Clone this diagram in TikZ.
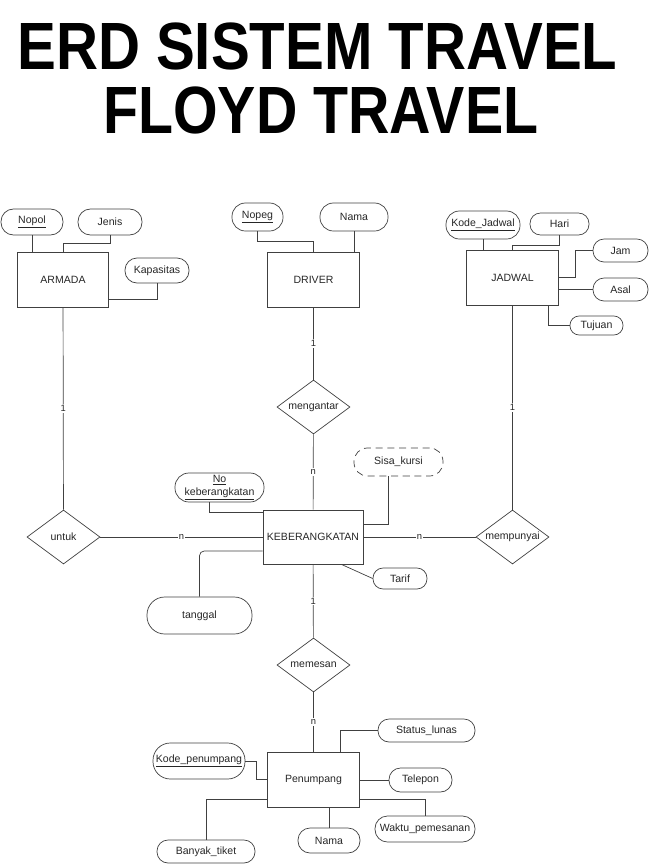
\documentclass[tikz,border=0pt]{standalone}
\usepackage{fontspec}
\usepackage{graphicx}
\setmainfont{Liberation Sans}
\usetikzlibrary{shapes.geometric,calc}
\definecolor{abu}{gray}{0.25}

\begin{document}
\begin{tikzpicture}[x=0.03cm,y=-0.03cm,
  every node/.style={font=\fontsize{9pt}{10.5pt}\selectfont,text=black!85},
  entitas/.style={draw=abu,line width=0.6pt,rectangle,minimum width=2.75cm,minimum height=1.65cm},
  relasi/.style={draw=abu,line width=0.6pt,diamond,aspect=1.35,inner sep=0pt,minimum width=2.19cm,minimum height=1.62cm},
  atribut/.style 2 args={draw=abu,line width=0.6pt,rectangle,inner sep=1pt,align=center,
    minimum width=#1,minimum height=#2,rounded corners=0.48*#2},
  kardinal/.style={fill=white,inner sep=1pt,font=\fontsize{8pt}{9pt}\selectfont},
  judul/.style={anchor=south west,inner sep=0pt,text=black},
  hub/.style={draw=abu,line width=0.6pt}]
  \useasboundingbox (0,0) rectangle (650,865);

  % judul
  \node[judul] (judul1) at (17,70) {\resizebox{18cm}{1.4cm}{\bfseries ERD SISTEM TRAVEL}};
  \node[judul] (judul2) at (103,134) {\resizebox{13.05cm}{1.4cm}{\bfseries FLOYD TRAVEL}};

  % entitas
  \node[entitas] (armada) at (63,279.5) {ARMADA};
  \node[entitas] (driver) at (313.5,279.5) {DRIVER};
  \node[entitas] (jadwal) at (512.5,277.5) {JADWAL};
  \node[entitas,minimum width=2.94cm,minimum height=1.62cm] (kbr) at (313,537) {KEBERANGKATAN};
  \node[entitas] (penumpang) at (313.5,779.5) {Penumpang};

  % relasi
  \node[relasi] (untuk) at (63.5,537) {untuk};
  \node[relasi] (mengantar) at (313.5,407) {mengantar};
  \node[relasi] (mempunyai) at (512.5,537) {mempunyai};
  \node[relasi] (memesan) at (313.5,665) {memesan};

  % atribut
  \node[atribut={1.86cm}{0.78cm}] (nopol) at (32,222) {\underline{Nopol}};
  \node[atribut={1.92cm}{0.78cm}] (jenis) at (110,222) {Jenis};
  \node[atribut={1.92cm}{0.75cm}] (kapasitas) at (157,270.5) {Kapasitas};
  \node[atribut={1.53cm}{0.84cm}] (nopeg) at (257.5,217) {\underline{Nopeg}};
  \node[atribut={2.04cm}{0.84cm}] (namadrv) at (354,217) {Nama};
  \node[atribut={2.22cm}{0.84cm}] (kodejadwal) at (483,225) {\underline{Kode\_Jadwal}};
  \node[atribut={1.77cm}{0.66cm}] (hari) at (559.5,224) {Hari};
  \node[atribut={1.65cm}{0.69cm}] (jam) at (620.5,250.5) {Jam};
  \node[atribut={1.65cm}{0.69cm}] (asal) at (620.5,289.5) {Asal};
  \node[atribut={1.59cm}{0.57cm}] (tujuan) at (596.5,325.5) {Tujuan};
  \node[atribut={2.67cm}{0.87cm}] (nokbr) at (219.5,487.5) {\underline{No}\\\underline{keberangkatan}};
  \node[atribut={2.67cm}{0.84cm},dash pattern=on 6pt off 4pt] (sisakursi) at (398.5,462) {Sisa\_kursi};
  \node[atribut={1.62cm}{0.63cm}] (tarif) at (400,578.5) {Tarif};
  \node[atribut={3.15cm}{1.11cm}] (tanggal) at (199.5,615.5) {tanggal};
  \node[atribut={2.91cm}{0.69cm}] (statuslunas) at (426.5,730.5) {Status\_lunas};
  \node[atribut={2.76cm}{1.08cm}] (kodepnp) at (199,761) {\underline{Kode\_penumpang}};
  \node[atribut={1.89cm}{0.72cm}] (telepon) at (420.5,780) {Telepon};
  \node[atribut={3.0cm}{0.78cm}] (waktu) at (425,829) {Waktu\_pemesanan};
  \node[atribut={1.86cm}{0.75cm}] (namapnp) at (329,840.5) {Nama};
  \node[atribut={2.94cm}{0.69cm}] (banyak) at (206,851.5) {Banyak\_tiket};

  % relasi antar entitas
  \draw[hub] (armada) -- node[kardinal] {1} (untuk);
  \draw[hub] (untuk) -- node[kardinal] {n} (kbr);
  \draw[hub] (driver) -- node[kardinal] {1} (mengantar);
  \draw[hub] (mengantar) -- node[kardinal] {n} (kbr);
  \draw[hub] (jadwal) -- node[kardinal] {1} (mempunyai);
  \draw[hub] (mempunyai) -- node[kardinal] {n} (kbr);
  \draw[hub] (kbr) -- node[kardinal] {1} (memesan);
  \draw[hub] (memesan) -- node[kardinal] {n} (penumpang);

  % atribut ARMADA
  \draw[hub] (nopol.south) -- (nopol.south |- armada.north);
  \draw[hub] (jenis.south) -- ++(0,8) -| (armada.north);
  \draw[hub] (kapasitas.south) |- ($(armada.east)+(0,19.5)$);

  % atribut DRIVER
  \draw[hub] (nopeg.south) -- ++(0,10) -| (driver.north);
  \draw[hub] (namadrv.south) -- (namadrv.south |- driver.north);

  % atribut JADWAL
  \draw[hub] (kodejadwal.south) -- (kodejadwal.south |- jadwal.north);
  \draw[hub] (hari.south) -- ++(0,10) -| (jadwal.north);
  \draw[hub] (jam.west) -- ++(-17,0) |- (jadwal.east);
  \draw[hub] (asal.west) -- (asal.west -| jadwal.east);
  \draw[hub] ($(jadwal.south)+(35.5,0)$) |- (tujuan.west);

  % atribut KEBERANGKATAN
  \draw[hub] ($(nokbr.south)+(-10.5,0)$) |- ($(kbr.north west)+(0,3)$);
  \draw[hub] ($(sisakursi.south)+(-10.5,0)$) |- ($(kbr.east)+(0,-13)$);
  \draw[hub] ($(kbr.south east)+(-22,0)$) -- (tarif.west);
  \draw[hub,rounded corners=4pt] (tanggal.north) |- ($(kbr.west)+(0,14)$);

  % atribut Penumpang
  \draw[hub] (statuslunas.west) -| ($(penumpang.north)+(26.5,0)$);
  \draw[hub] (kodepnp.east) -- ++(11,0) |- (penumpang.west);
  \draw[hub] (telepon.west) -- (telepon.west -| penumpang.east);
  \draw[hub] ($(penumpang.east)+(0,19.5)$) -| (waktu.north);
  \draw[hub] (namapnp.north) -- (namapnp.north |- penumpang.south);
  \draw[hub] (banyak.north) |- ($(penumpang.west)+(0,19.5)$);
\end{tikzpicture}
\end{document}
